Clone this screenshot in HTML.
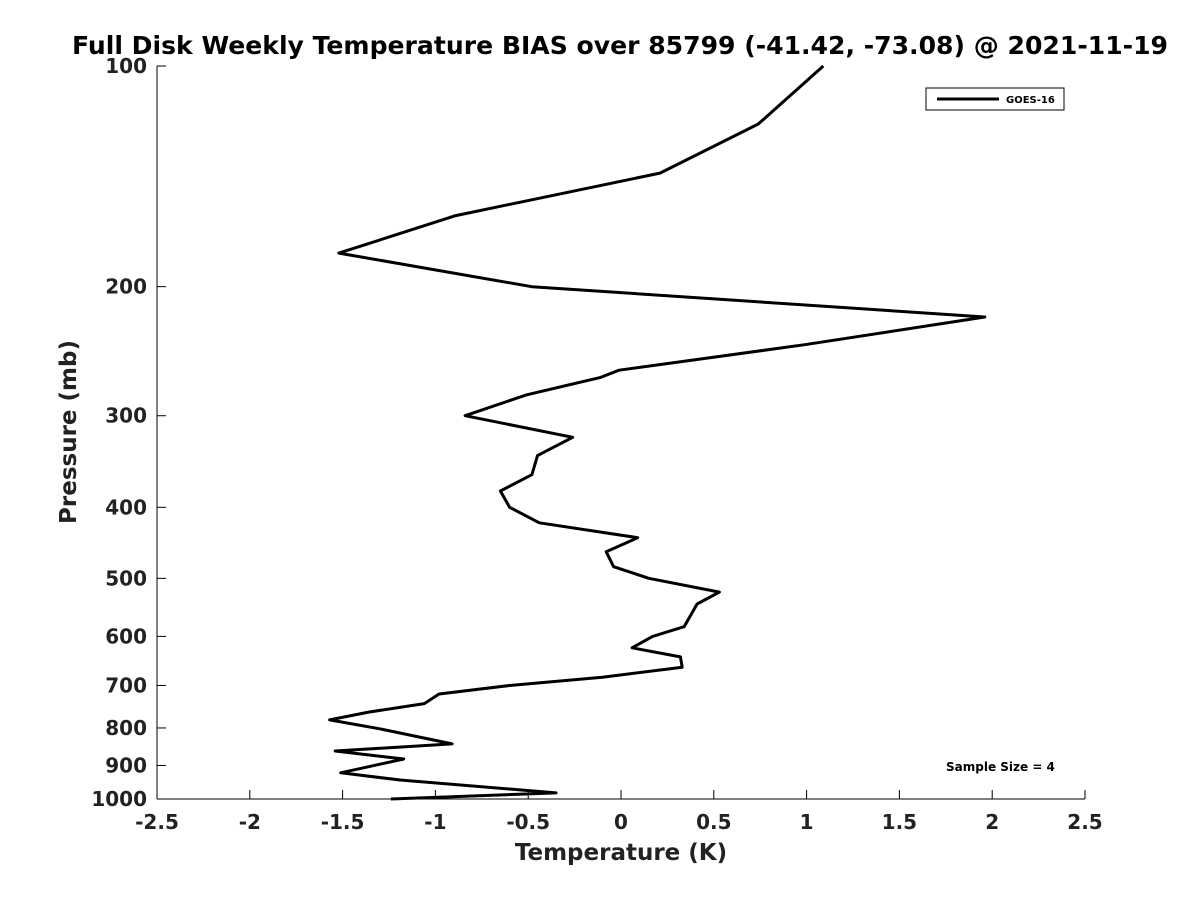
<!DOCTYPE html>
<html><head><meta charset="utf-8"><style>
body{margin:0;background:#fff;}
svg{display:block;font-family:"DejaVu Sans","Liberation Sans",sans-serif;}
</style></head><body>
<svg id="chart" width="1200" height="900" viewBox="0 0 1200 900">
<rect width="1200" height="900" fill="#fff"/>
<text x="620" y="54" text-anchor="middle" font-size="25" font-weight="bold" fill="#000" textLength="1096" lengthAdjust="spacingAndGlyphs">Full Disk Weekly Temperature BIAS over 85799 (-41.42, -73.08) @ 2021-11-19</text>
<g id="axes"></g>
<path id="line" fill="none" stroke="#000" stroke-width="3" stroke-linejoin="round"/>
<g>
<rect x="926" y="88" width="138" height="22" fill="#fff" stroke="#000" stroke-width="1"/>
<line x1="937" y1="99" x2="999" y2="99" stroke="#000" stroke-width="3"/>
<text x="1006" y="103" font-size="10" font-weight="bold">GOES-16</text>
</g>
<text x="946" y="771" font-size="12" font-weight="bold">Sample Size = 4</text>
<text x="621" y="860" text-anchor="middle" font-size="23" font-weight="bold" fill="#222">Temperature (K)</text>
<text transform="translate(76,432) rotate(-90)" text-anchor="middle" font-size="23" font-weight="bold" fill="#222">Pressure (mb)</text>
</svg>
<script>
const pressures=[100,120,140,160,180,200,220,240,260,266,281,300,321,340,361,380,400,420,440,460,482,500,522,542,582,600,622,640,661,682,700,719,741,761,780,802,841,860,882,921,942,981,1000];
const bias=[1.09,0.74,0.21,-0.89,-1.52,-0.48,1.96,0.99,-0.01,-0.11,-0.51,-0.84,-0.26,-0.45,-0.48,-0.65,-0.60,-0.44,0.09,-0.08,-0.04,0.15,0.53,0.41,0.34,0.17,0.06,0.32,0.33,-0.10,-0.60,-0.98,-1.06,-1.36,-1.57,-1.30,-0.91,-1.54,-1.17,-1.51,-1.19,-0.35,-1.24];
const xTicks=[-2.5,-2,-1.5,-1,-0.5,0,0.5,1,1.5,2,2.5];
const xTickLabels=["-2.5","-2","-1.5","-1","-0.5","0","0.5","1","1.5","2","2.5"];
const yTicks=[100,200,300,400,500,600,700,800,900,1000];
const yTickLabels=["100","200","300","400","500","600","700","800","900","1000"];
const L=157,R=1085,T=66,B=799;
const xs=v=>L+(v+2.5)/5*(R-L);
const ys=p=>T+Math.log10(p/100)*(B-T);
const NS="http://www.w3.org/2000/svg";
const ax=document.getElementById('axes');
function mk(t,a){const e=document.createElementNS(NS,t);for(const k in a)e.setAttribute(k,a[k]);ax.appendChild(e);return e;}
let e=mk('line',{x1:L,y1:T,x2:L,y2:B,stroke:'#000','stroke-width':1});


e=mk('line',{x1:L,y1:B,x2:R,y2:B,stroke:'#000','stroke-width':1});


xTicks.forEach((v,i)=>{
 mk('line',{x1:xs(v),y1:B,x2:xs(v),y2:B-9,stroke:'#000','stroke-width':1});
 const t=mk('text',{x:xs(v),y:B+30,'text-anchor':'middle','font-size':20,'font-weight':'bold',fill:'#222'});
 t.textContent=xTickLabels[i];
 
 
});
yTicks.forEach((p,i)=>{
 mk('line',{x1:L,y1:ys(p),x2:L+9,y2:ys(p),stroke:'#000','stroke-width':1});
 const t=mk('text',{x:L-10,y:ys(p)+7,'text-anchor':'end','font-size':20,'font-weight':'bold',fill:'#222'});
 t.textContent=yTickLabels[i];
 
 
});
document.getElementById('line').setAttribute('d',pressures.map((p,i)=>(i?'L':'M')+xs(bias[i]).toFixed(1)+' '+ys(p).toFixed(1)).join(' '));
</script>
</body></html>
